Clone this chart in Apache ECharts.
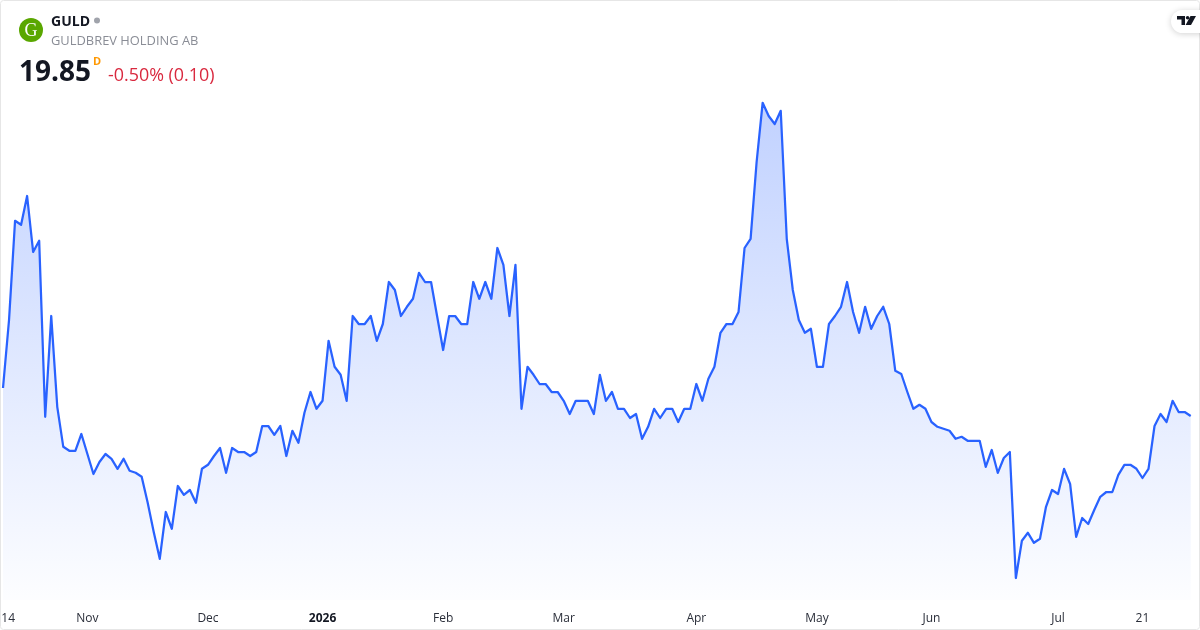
<!DOCTYPE html>
<html><head><meta charset="utf-8">
<style>html,body{margin:0;padding:0;background:#fff}#c{width:1200px;height:630px}</style>
<script src="https://cdn.jsdelivr.net/npm/echarts@6/dist/echarts.min.js"></script>
</head><body><div id="c"></div>
<script>
const prices = [
20.55,22.25,24.73,24.63,25.35,23.95,24.23,19.83,22.35,20.08,
19.08,18.98,18.98,19.40,18.90,18.40,18.70,18.90,18.78,18.53,
18.78,18.48,18.43,18.33,17.68,16.95,16.28,17.45,17.03,18.10,
17.88,18.00,17.68,18.53,18.63,18.85,19.05,18.43,19.05,18.95,
18.95,18.85,18.95,19.60,19.60,19.38,19.60,18.85,19.48,19.18,
19.93,20.45,20.03,20.23,21.73,21.08,20.88,20.23,22.35,22.15,
22.15,22.35,21.73,22.15,23.20,23.00,22.35,22.58,22.78,23.43,
23.20,23.20,22.35,21.50,22.35,22.35,22.15,22.15,23.20,22.78,
23.20,22.78,24.05,23.63,22.35,23.63,20.03,21.08,20.88,20.65,
20.65,20.45,20.45,20.23,19.90,20.23,20.23,20.23,19.90,20.88,
20.23,20.45,20.03,20.03,19.80,19.90,19.28,19.58,20.03,19.80,
20.03,20.03,19.70,20.03,20.03,20.65,20.23,20.78,21.08,21.93,
22.15,22.15,22.45,24.05,24.28,26.20,27.68,27.35,27.15,27.48,
24.28,23.00,22.25,21.93,22.03,21.08,21.08,22.15,22.35,22.58,
23.20,22.45,21.93,22.58,22.03,22.35,22.58,22.15,20.98,20.90,
20.45,20.03,20.13,20.03,19.70,19.58,19.53,19.48,19.28,19.33,
19.23,19.23,19.23,18.58,19.00,18.43,18.80,18.95,15.80,16.73,
16.93,16.68,16.78,17.58,18.00,17.90,18.53,18.15,16.83,17.30,
17.15,17.50,17.83,17.95,17.95,18.38,18.63,18.63,18.53,18.30,
18.53,19.60,19.90,19.70,20.23,19.95,19.95,19.85];
const tickIndex = [0,14,34,53,73,93,115,135,154,175,189];
const tickLabels = ['14','Nov','Dec','2026','Feb','Mar','Apr','May','Jun','Jul','21'];
const boldLabels = ['2026'];
const symbol = 'GULD';
const companyName = 'GULDBREV HOLDING AB';
const lastPrice = '19.85';
const changeText = '-0.50% (0.10)';

const categories = prices.map((_, i) => {
  const k = tickIndex.indexOf(i);
  return k >= 0 ? tickLabels[k] : '';
});
const FONT = '"Open Sans", sans-serif';
const chart = echarts.init(document.getElementById('c'), null, {renderer: 'canvas'});
chart.setOption({
  animation: false,
  backgroundColor: '#ffffff',
  grid: {left: 3, right: 9.3, top: 50, bottom: 30, containLabel: false, outerBoundsMode: 'none'},
  xAxis: {
    type: 'category', data: categories, boundaryGap: false,
    axisLine: {show: false}, axisTick: {show: false}, splitLine: {show: false},
    axisLabel: {
      interval: 0, hideOverlap: false, margin: 12.5,
      fontFamily: FONT, fontSize: 12, color: '#2a2e39',
      formatter: (v, i) => {
        if (i === 0) return '{m|' + v + '}';
        return boldLabels.includes(v) ? '{b|' + v + '}' : v;
      },
      rich: {
        b: {fontFamily: FONT, fontSize: 12, fontWeight: 'bold', color: '#131722'},
        m: {fontFamily: FONT, fontSize: 12, color: '#2a2e39', width: 24, align: 'right'}
      }
    }
  },
  yAxis: {
    type: 'value', min: 15.25, max: 29,
    axisLine: {show: false}, axisTick: {show: false}, axisLabel: {show: false}, splitLine: {show: false}
  },
  series: [{
    type: 'line', data: prices, showSymbol: false, smooth: false,
    lineStyle: {color: '#2962ff', width: 2.25, join: 'round'},
    areaStyle: {opacity: 1, color: new echarts.graphic.LinearGradient(0, 0, 0, 1, [
      {offset: 0, color: 'rgba(41,98,255,0.29)'},
      {offset: 1, color: 'rgba(41,98,255,0.01)'}
    ])},
    silent: true
  }],
  graphic: [
    {type: 'rect', silent: true, z: 50, shape: {x: 0.5, y: 0.5, width: 1199, height: 629, r: 3},
      style: {fill: 'none', stroke: '#e6e6e6', lineWidth: 1}},
    {type: 'circle', z: 60, shape: {cx: 31, cy: 30, r: 12}, style: {fill: '#5aa700'}},
    {type: 'text', z: 61, x: 31, y: 31, style: {text: 'G', fill: '#ffffff', font: '18px "Liberation Serif", serif', align: 'center', verticalAlign: 'middle'}},
    {type: 'text', z: 60, x: 51, y: 22, style: {text: symbol, fill: '#131722', font: 'bold 14px ' + FONT, verticalAlign: 'middle'}},
    {type: 'circle', z: 60, shape: {cx: 97, cy: 20.5, r: 3}, style: {fill: '#a0a3ab'}},
    {type: 'text', z: 60, x: 51, y: 41, style: {text: companyName, fill: '#8a8d96', font: '12.9px ' + FONT, verticalAlign: 'middle'}},
    {type: 'text', z: 60, x: 19, y: 73, style: {text: lastPrice, fill: '#131722', font: 'bold 28px ' + FONT, verticalAlign: 'middle'}},
    {type: 'text', z: 60, x: 93, y: 62, style: {text: 'D', fill: '#ff9800', font: 'bold 11px ' + FONT, verticalAlign: 'middle'}},
    {type: 'text', z: 60, x: 108, y: 75.5, style: {text: changeText, fill: '#d9293f', font: '17.9px ' + FONT, verticalAlign: 'middle'}},
    {type: 'rect', z: 70, shape: {x: 1171, y: 10, width: 40, height: 23, r: 11.5},
      style: {fill: '#ffffff', shadowBlur: 6, shadowColor: 'rgba(0,0,0,0.18)', shadowOffsetY: 1}},
    {type: 'polygon', z: 71, shape: {points: [[1177,16],[1185,16],[1185,25],[1181.5,25],[1181.5,19.5],[1177,19.5]]}, style: {fill: '#131722'}},
    {type: 'polygon', z: 71, shape: {points: [[1190.5,16],[1196,16],[1191,25],[1185.6,25]]}, style: {fill: '#131722'}},
    {type: 'circle', z: 71, shape: {cx: 1187.6, cy: 17.8, r: 1.8}, style: {fill: '#131722'}}
  ]
});
</script></body></html>
